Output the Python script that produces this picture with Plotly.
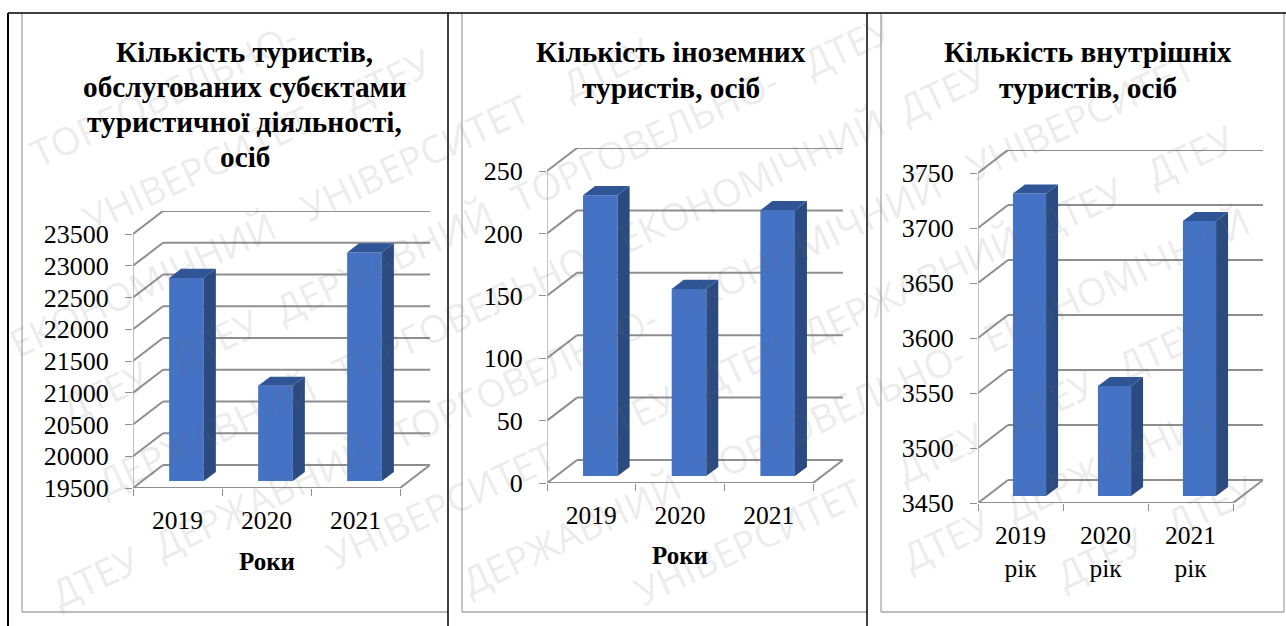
import math
import plotly.graph_objects as go

W, H = 1286, 626
FONT = "Liberation Serif"

# ---- data ----
years = ["2019", "2020", "2021"]
years_rik = ["2019<br>рік", "2020<br>рік", "2021<br>рік"]
tourists_total = [22700, 21000, 23100]
tourists_foreign = [225, 150, 213]
tourists_domestic = [3725, 3550, 3700]
ticks_total = [19500, 20000, 20500, 21000, 21500, 22000, 22500, 23000, 23500]
ticks_foreign = [0, 50, 100, 150, 200, 250]
ticks_domestic = [3450, 3500, 3550, 3600, 3650, 3700, 3750]
title_total = ["Кількість туристів,", "обслугованих суб\u0454ктами", "туристичної діяльності,", "осіб"]
title_foreign = ["Кількість іноземних", "туристів, осіб"]
title_domestic = ["Кількість внутрішніх", "туристів, осіб"]
x_title = "Роки"
watermark_words = ["ДЕРЖАВНИЙ", "ТОРГОВЕЛЬНО-", "ЕКОНОМІЧНИЙ", "УНІВЕРСИТЕТ", "ДТЕУ", "ДТЕУ"]

FRONT, SIDE, TOP = "#4472C4", "#2A4A80", "#2F5597"
GRID, AXIS = "#8E8E8E", "#ABABAB"
WALL_DX, WALL_DY = 30, 23      # wall depth in pixels
BAR_W, BAR_F, BAR_D = 0.39, 0.30, 0.40

panels = [
    dict(vals=tourists_total, ticks=ticks_total, labels=years, x0=133, x1=400, y0=488, yt=234),
    dict(vals=tourists_foreign, ticks=ticks_foreign, labels=years, x0=547, x1=813, y0=483, yt=171),
    dict(vals=tourists_domestic, ticks=ticks_domestic, labels=years_rik, x0=978, x1=1233, y0=503, yt=173),
]

fig = go.Figure()
shapes, annotations = [], []


def px(x):
    return x / W


def py(y):
    return 1 - y / H


for i, p in enumerate(panels, start=1):
    xa, ya = f"x{i}", f"y{i}"
    vmin, vmax = p["ticks"][0], p["ticks"][-1]
    cat_px = (p["x1"] - p["x0"]) / len(p["vals"])
    ddx = WALL_DX / cat_px
    ddy = WALL_DY * (vmax - vmin) / (p["y0"] - p["yt"])
    n = len(p["vals"])
    xs, xe = -0.5, n - 0.5

    # wall + floor grid (below the marks)
    for t in p["ticks"]:
        for (a, b, c, d) in [(xs, t, xs + ddx, t + ddy), (xs + ddx, t + ddy, xe + ddx, t + ddy)]:
            shapes.append(dict(type="line", xref=xa, yref=ya, x0=a, y0=b, x1=c, y1=d, layer="below",
                               line=dict(color=GRID, width=2)))
    for (a, b, c, d) in [(xs, vmin, xe, vmin), (xe, vmin, xe + ddx, vmin + ddy)]:
        shapes.append(dict(type="line", xref=xa, yref=ya, x0=a, y0=b, x1=c, y1=d, layer="below",
                           line=dict(color=GRID, width=2)))
    shapes.append(dict(type="line", xref=xa, yref=ya, x0=xs, y0=vmin, x1=xs, y1=vmax, layer="below",
                       line=dict(color=AXIS, width=1.4)))

    # bar front faces
    fx, fy = BAR_F * ddx, BAR_F * ddy
    base = vmin + fy
    fig.add_trace(go.Bar(x=list(range(n)), y=[v - vmin for v in p["vals"]], base=base,
                         width=BAR_W, offset=-BAR_W / 2 + fx,
                         marker=dict(color=FRONT, line=dict(width=0)),
                         xaxis=xa, yaxis=ya, showlegend=False, hoverinfo="skip"))
    # bar side and top faces
    bx, by = BAR_D * ddx, BAR_D * ddy
    for k, v in enumerate(p["vals"]):
        l = k - BAR_W / 2 + fx
        r = k + BAR_W / 2 + fx
        top = v + fy
        fig.add_trace(go.Scatter(x=[r, r + bx, r + bx, r, r], y=[base, base + by, top + by, top, base],
                                 fill="toself", fillcolor=SIDE, mode="lines", line=dict(width=0),
                                 xaxis=xa, yaxis=ya, showlegend=False, hoverinfo="skip"))
        fig.add_trace(go.Scatter(x=[l, l + bx, r + bx, r, l], y=[top, top + by, top + by, top, top],
                                 fill="toself", fillcolor=TOP, mode="lines", line=dict(width=0),
                                 xaxis=xa, yaxis=ya, showlegend=False, hoverinfo="skip"))

    x_key = "xaxis" if i == 1 else f"xaxis{i}"
    y_key = "yaxis" if i == 1 else f"yaxis{i}"
    fig.update_layout({
        x_key: dict(domain=[px(p["x0"]), px(p["x0"] + WALL_DX + (p["x1"] - p["x0"]))],
                    range=[xs, xe + ddx], anchor=ya, showgrid=False, zeroline=False, showline=False,
                    automargin=False,
                    tickmode="array", tickvals=list(range(n)), ticktext=p["labels"], ticks="",
                    ticklabelstandoff=14,
                    tickfont=dict(family=FONT, size=25.5, color="#000"),
                    minor=dict(tickmode="array", tickvals=[xs + j for j in range(n + 1)], ticks="outside",
                               ticklen=7, tickwidth=1, tickcolor=GRID, showgrid=False)),
        y_key: dict(domain=[py(p["y0"]), py(p["yt"] - WALL_DY)],
                    range=[vmin, vmax + ddy], anchor=xa, showgrid=False, zeroline=False, showline=False,
                    automargin=False,
                    tickmode="array", tickvals=p["ticks"], tickformat="d", ticks="outside", ticklen=7, tickwidth=1,
                    tickcolor=GRID, ticklabelstandoff=11,
                    tickfont=dict(family=FONT, size=26, color="#000")),
    })

# ---- watermark: words laid along parallel diagonal rows, only those fully on the page ----
ANG = math.radians(25)
CHAR_W, WM_SIZE, GAP = 25.5, 38, 20


def fits(word, pos, ox, oy):
    w = len(word) * CHAR_W
    cx = ox + (pos + w / 2) * math.cos(ANG)
    cy = oy - (pos + w / 2) * math.sin(ANG)
    hw = (w / 2) * math.cos(ANG) + 10
    hh = (w / 2) * math.sin(ANG) + 18
    return (hw < cx < W - hw and hh < cy < H - hh), cx, cy, w


for row in range(-6, 13):
    ox, oy = 643 - 1000 * math.cos(ANG), 90 * row + 1000 * math.sin(ANG) - 40
    pos = 37 * ((row * 5) % 7)
    j = row % len(watermark_words)
    while pos < 2200:
        word = watermark_words[j % len(watermark_words)]
        ok, cx, cy, w = fits(word, pos, ox, oy)
        if not ok:
            word = "ДТЕУ"
            ok, cx, cy, w = fits(word, pos, ox, oy)
        if ok:
            annotations.append(dict(text=word, xref="paper", yref="paper", x=px(cx), y=py(cy), showarrow=False,
                                    xanchor="center", yanchor="middle", textangle=-25,
                                    font=dict(family="Open Sans", size=WM_SIZE, color="rgba(110,110,110,0.14)")))
        pos += w + GAP
        j += 1

# ---- titles ----
for lines, cx, ys in [(title_total, 244.5, [52, 87, 122, 157]), (title_foreign, 671, [52, 88]),
                      (title_domestic, 1088, [52, 88])]:
    for txt, cy in zip(lines, ys):
        annotations.append(dict(text=f"<b>{txt}</b>", xref="paper", yref="paper", x=px(cx), y=py(cy),
                                xanchor="center", yanchor="middle", showarrow=False, align="center",
                                font=dict(family=FONT, size=29.3, color="#000")))
for cx, cy in [(267, 561), (680, 555)]:
    annotations.append(dict(text=f"<b>{x_title}</b>", xref="paper", yref="paper", x=px(cx), y=py(cy),
                            xanchor="center", yanchor="middle", showarrow=False,
                            font=dict(family=FONT, size=25, color="#000")))

# ---- table and chart frames ----
for (a, b, c, d) in [(22, 13, 22, 612), (22, 612, 448, 612), (462, 13, 462, 612), (462, 612, 867, 612),
                     (881, 13, 881, 612), (881, 612, 1284, 612), (1284, 13, 1284, 612)]:
    shapes.append(dict(type="line", xref="paper", yref="paper", x0=px(a), y0=py(b), x1=px(c), y1=py(d),
                       line=dict(color="#A6A6A6", width=1.3)))
for (a, b, c, d, wd) in [(8, 13, 1286, 13, 1.5), (8, 13, 8, 626, 2), (448, 13, 448, 626, 1.5), (867, 13, 867, 626, 1.5)]:
    shapes.append(dict(type="line", xref="paper", yref="paper", x0=px(a), y0=py(b), x1=px(c), y1=py(d),
                       line=dict(color="#000", width=wd)))

fig.update_layout(width=W, height=H, margin=dict(l=0, r=0, t=0, b=0), autosize=False,
                  paper_bgcolor="#fff", plot_bgcolor="rgba(0,0,0,0)", barmode="overlay",
                  shapes=shapes, annotations=annotations, showlegend=False,
                  font=dict(family=FONT))
fig.write_html("out.html", config=dict(displayModeBar=False),
               post_script="document.body.style.margin='0';document.body.style.overflow='hidden';")
